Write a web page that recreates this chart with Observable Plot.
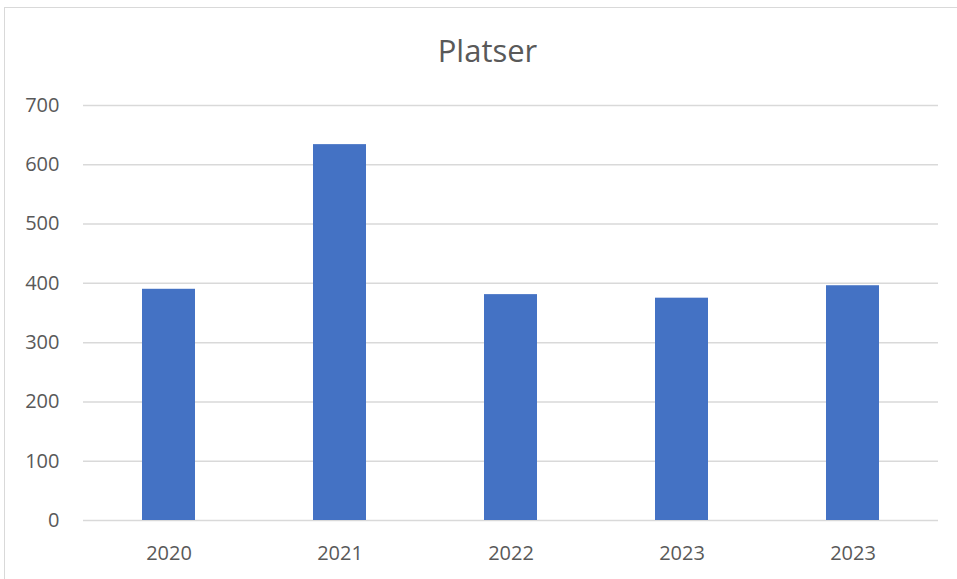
<!DOCTYPE html>
<html>
<head>
<meta charset="utf-8">
<script src="https://cdn.jsdelivr.net/npm/d3@7"></script>
<script src="https://cdn.jsdelivr.net/npm/@observablehq/plot@0.6"></script>
<style>
  html, body { margin: 0; padding: 0; background: #fff; }
  #wrap { position: relative; width: 957px; height: 579px; overflow: hidden; font-family: "Open Sans", sans-serif; }
  #frame { position: absolute; left: 4px; top: 7px; width: 980px; height: 600px; border: 1.5px solid #d9d9d9; box-sizing: border-box; }
  #title { position: absolute; left: 0; top: 0; width: 975px; height: 80px; text-align: center; line-height: 100px; font-size: 31px; color: #595959; }
  #chart { position: absolute; left: 0; top: 80px; }
</style>
</head>
<body>
<div id="wrap">
  <div id="frame"></div>
  <div id="title">Platser</div>
  <div id="chart"></div>
</div>
<script>
const categories = ["2020", "2021", "2022", "2023", "2023"];
const values = [390, 634, 381, 375, 396];
const yTicks = [0, 100, 200, 300, 400, 500, 600, 700];

const data = categories.map((c, i) => ({idx: i, label: c, value: values[i]}));

const chart = Plot.plot({
  width: 957,
  height: 499,
  marginLeft: 83,
  marginRight: 19,
  marginTop: 25,
  marginBottom: 59,
  style: {fontFamily: "Open Sans, sans-serif", fontSize: "20px", color: "#595959", background: "transparent"},
  x: {domain: d3.range(categories.length), paddingInner: 0.69, paddingOuter: 0.345, label: null, tickFormat: i => categories[i]},
  y: {domain: [0, 700], label: null},
  marks: [
    Plot.gridY(yTicks, {stroke: "#d9d9d9", strokeOpacity: 1, strokeWidth: 1.5}),
    Plot.barY(data, {x: "idx", y: "value", fill: "#4472C4"}),
    Plot.axisY({ticks: yTicks, tickSize: 0, tickPadding: 24, fill: "#595959", fontSize: 20}),
    Plot.axisX({tickSize: 0, tickPadding: 25, fill: "#595959", fontSize: 20, tickFormat: i => categories[i]})
  ]
});
document.getElementById("chart").appendChild(chart);
</script>
</body>
</html>
